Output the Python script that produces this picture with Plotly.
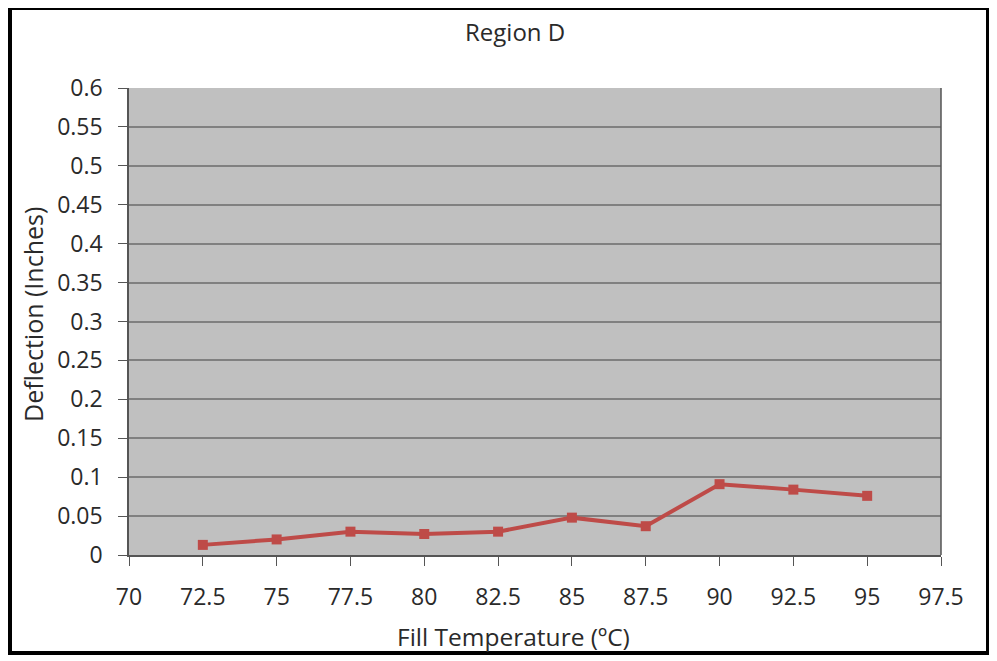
import plotly.graph_objects as go

temps = [72.5, 75, 77.5, 80, 82.5, 85, 87.5, 90, 92.5, 95]
deflection = [0.013, 0.020, 0.030, 0.027, 0.030, 0.048, 0.037, 0.091, 0.084, 0.076]
x_ticks = [70, 72.5, 75, 77.5, 80, 82.5, 85, 87.5, 90, 92.5, 95, 97.5]
y_ticks = [0, 0.05, 0.1, 0.15, 0.2, 0.25, 0.3, 0.35, 0.4, 0.45, 0.5, 0.55, 0.6]

OFF = 8  # page body margin
W, H = 997, 661
L, T = 129 - OFF, 88 - OFF
pw, ph = 812, 467
R, B = W - L - pw, H - T - ph

fig = go.Figure()
fig.add_trace(go.Scatter(
    x=temps, y=deflection, mode="lines+markers",
    line=dict(color="#BE4B48", width=4),
    marker=dict(symbol="square", size=10, color="#BE4B48"),
    showlegend=False,
))

font = "'Open Sans', Lato, sans-serif"
TC = "#2a2a2a"
fig.update_layout(
    width=W, height=H,
    margin=dict(l=L, r=R, t=T, b=B),
    paper_bgcolor="white", plot_bgcolor="#C0C0C0",
    font=dict(family=font, size=23, color=TC),
    xaxis=dict(range=[70, 97.5], tickvals=x_ticks, ticktext=[f"{v:g}" for v in x_ticks],
               showgrid=False, zeroline=False, showline=True, linecolor="#555", linewidth=1.5,
               ticks="outside", ticklen=9, tickcolor="#555", ticklabelstandoff=12),
    yaxis=dict(range=[0, 0.6], tickvals=y_ticks, ticktext=[f"{v:g}" for v in y_ticks],
               showgrid=True, gridcolor="#808080", gridwidth=1.5, zeroline=False,
               showline=True, linecolor="#555", linewidth=1.5,
               ticks="outside", ticklen=9, tickcolor="#555", ticklabelstandoff=11),
    annotations=[
        dict(text="Region D", xref="paper", yref="paper",
             x=(515 - 129) / pw, y=(555 - 32) / ph, xanchor="center", yanchor="middle",
             showarrow=False, font=dict(size=24, color=TC)),
        dict(text="Fill Temperature (ºC)", xref="paper", yref="paper",
             x=(513 - 129) / pw, y=(555 - 636) / ph, xanchor="center", yanchor="middle",
             showarrow=False, font=dict(size=24.5, color=TC)),
        dict(text="Deflection (Inches)", xref="paper", yref="paper",
             x=(33 - 129) / pw, y=(555 - 315) / ph, xanchor="center", yanchor="middle",
             textangle=-90, showarrow=False, font=dict(size=25, color=TC)),
    ],
    shapes=[
        dict(type="rect", xref="paper", yref="paper",
             x0=(10 - 129) / pw, x1=(988 - 129) / pw,
             y0=(555 - 653) / ph, y1=(555 - 8) / ph,
             line=dict(color="black", width=4), fillcolor="rgba(0,0,0,0)", layer="below"),
        dict(type="line", xref="paper", yref="paper", x0=1, x1=1, y0=0, y1=1,
             line=dict(color="#555", width=1.5)),
    ],
)

fig.write_html("out.html")
